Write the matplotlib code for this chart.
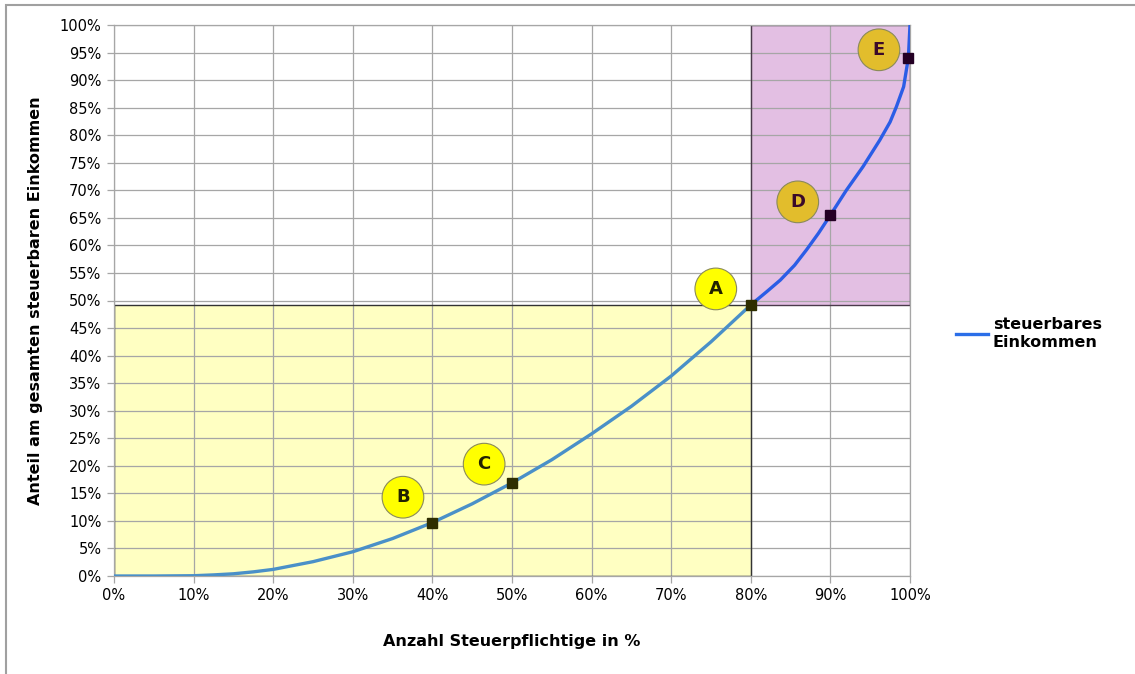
import numpy as np
import matplotlib
matplotlib.use("Agg")
import matplotlib.pyplot as plt
from matplotlib.patches import Rectangle
from matplotlib.ticker import MultipleLocator, FuncFormatter

# Lorenzkurve: Anteil Steuerpflichtige (x) gegen Anteil am steuerbaren Einkommen (y), in %
anteil_pflichtige = [0, 5, 10, 12.5, 15, 17.5, 20, 25, 30, 35, 40, 45, 50, 55, 60, 65, 70, 75,
                     80, 82, 83.7, 85.5, 87, 88.5, 90, 92, 94.1, 96.2, 97.5, 98.3, 99.2, 99.8, 100]
anteil_einkommen = [0, 0, 0.05, 0.2, 0.4, 0.75, 1.2, 2.6, 4.4, 6.8, 9.7, 13.1, 16.9, 21.1, 25.8,
                    30.8, 36.3, 42.5, 49.2, 51.6, 53.7, 56.4, 59.2, 62.2, 65.5, 70.0, 74.3, 79.1,
                    82.4, 85.2, 88.8, 94.1, 100]

# markierte Punkte auf der Kurve
punkt_namen = ["B", "C", "A", "D", "E"]
punkt_x = [40, 50, 80, 90, 99.8]

# Lage der Beschriftungskreise
kreis_x = [36.3, 46.5, 75.6, 85.9, 96.1]
kreis_y = [14.3, 20.3, 52.1, 67.9, 95.5]
kreis_farbe = ["#ffff00", "#ffff00", "#ffff00", "#e2bd2c", "#e2bd2c"]

legende_text = "steuerbares\nEinkommen"

x = np.array(anteil_pflichtige)
y = np.array(anteil_einkommen)
grenze = 80
y_grenze = y[x == grenze][0]

fig = plt.figure(figsize=(11.35, 6.74), dpi=100)
ax = fig.add_axes([114 / 1135, 1 - 576 / 674, (910 - 114) / 1135, (576 - 25) / 674])

ax.set_xlim(0, 100)
ax.set_ylim(0, 100)
ax.xaxis.set_major_locator(MultipleLocator(10))
ax.yaxis.set_major_locator(MultipleLocator(5))
pct = FuncFormatter(lambda v, p: f"{v:.0f}%")
ax.xaxis.set_major_formatter(pct)
ax.yaxis.set_major_formatter(pct)
ax.grid(True, color="#a6a6a6", linewidth=0.9, zorder=0)
ax.tick_params(axis="both", labelsize=10.5, colors="#a6a6a6", labelcolor="black",
               length=5, width=0.9, pad=4)
for s in ax.spines.values():
    s.set_color("#a6a6a6")
    s.set_linewidth(0.9)

# Flächen unter bzw. über dem Punkt A
ax.add_patch(Rectangle((0, 0), grenze, y_grenze, facecolor="#ffffa8", alpha=0.7,
                       edgecolor="none", zorder=1))
ax.add_patch(Rectangle((0, 0), grenze, y_grenze, facecolor="none",
                       edgecolor="#333333", linewidth=1.0, zorder=2))
ax.add_patch(Rectangle((grenze, y_grenze), 100 - grenze, 100 - y_grenze, facecolor="#d8a4d8",
                       alpha=0.7, edgecolor="none", zorder=1))
ax.add_patch(Rectangle((grenze, y_grenze), 100 - grenze, 100 - y_grenze, facecolor="none",
                       edgecolor="#4a3a4a", linewidth=1.0, zorder=2))

unten = x <= grenze
oben = x >= grenze
ax.plot(x[unten], y[unten], color="#4a90c8", linewidth=2.4, zorder=3, solid_capstyle="round")
ax.plot(x[oben], y[oben], color="#2b5de6", linewidth=2.4, zorder=3, solid_capstyle="round")
linie, = ax.plot([], [], color="#2b6ee8", linewidth=2.4, label=legende_text)

px = np.array(punkt_x)
py = np.array([y[x == v][0] for v in punkt_x])
ax.plot(px[px <= grenze], py[px <= grenze], "s", color="#2e2e00", markersize=6.5, zorder=4,
        linestyle="none", clip_on=False)
ax.plot(px[px > grenze], py[px > grenze], "s", color="#240024", markersize=6.5, zorder=4,
        linestyle="none", clip_on=False)

ax.scatter(kreis_x, kreis_y, s=900, c=kreis_farbe, edgecolors="#8a8a5a", linewidths=0.8,
           zorder=5, clip_on=False)
for name, cx, cy in zip(punkt_namen, kreis_x, kreis_y):
    farbe = "#3a0a2a" if cx > grenze + 2 else "#222200"
    ax.text(cx, cy, name, ha="center", va="center", fontsize=13, fontweight="bold",
            color=farbe, zorder=6)

ax.set_xlabel("Anzahl Steuerpflichtige in %", fontsize=11.5, fontweight="bold", labelpad=22)
ax.set_ylabel("Anteil am gesamten steuerbaren Einkommen", fontsize=11.5, fontweight="bold",
              labelpad=12)

leg = ax.legend(handles=[linie], loc="center left", bbox_to_anchor=(1.04, 0.44),
                frameon=False, fontsize=11.5, handlelength=2.0, handletextpad=0.3)
for t in leg.get_texts():
    t.set_fontweight("bold")

# Rahmen des Diagrammbereichs
fig.patches.append(Rectangle((6 / 1135, -0.02), 1.0, 1 - 5 / 674 + 0.02, transform=fig.transFigure,
                             facecolor="none", edgecolor="#a0a0a0", linewidth=1.5))

fig.savefig("out.png", dpi=100)
